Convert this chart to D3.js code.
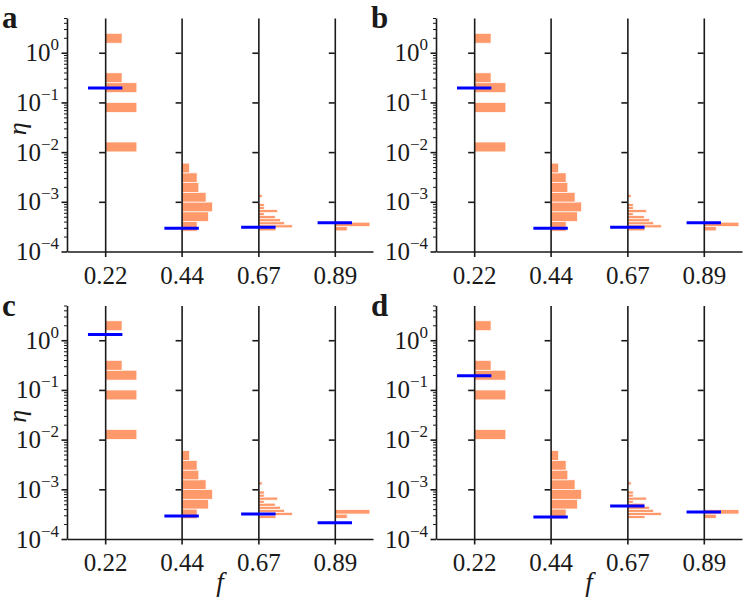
<!DOCTYPE html>
<html>
<head>
<meta charset="utf-8">
<script src="https://cdn.jsdelivr.net/npm/d3@7"></script>
<style>
  body { margin: 0; background: #fff; }
  svg { display: block; }
</style>
</head>
<body>
<svg id="chart"></svg>
<script>
const fValues = [0.222, 0.444, 0.667, 0.889];
const fLabels = ['0.22', '0.44', '0.67', '0.89'];
const panelLabels = ['a', 'b', 'c', 'd'];
const decades = [1e-4, 1e-3, 1e-2, 1e-1, 1];
const decadeExp = ['-4', '-3', '-2', '-1', '0'];

// eta histograms, one per f: range of the bins and bar length of each bin (lowest bin first)
const histLow = [0.0101, 2.56e-4, 2.6e-4, 2.6e-4];
const histHigh = [2.46, 6.0e-3, 1.41e-3, 3.89e-4];
const hist022 = [0.092, 0, 0, 0, 0.092, 0, 0.092, 0.049, 0, 0, 0, 0.049];
const hist044 = [0.045, 0.078, 0.09, 0.071, 0.05, 0.045, 0.023];
const hist067 = [0.051, 0.099, 0.076, 0.064, 0.049, 0.017, 0.056, 0.017, 0.017, 0, 0, 0.011];
const hist089 = [0.036, 0.102];

// blue marks: eta estimate per f, one list per panel
const estA = [0.195, 2.92e-4, 3.06e-4, 3.8e-4];
const estB = [0.195, 2.92e-4, 3.06e-4, 3.8e-4];
const estC = [1.30, 2.9e-4, 3.18e-4, 2.13e-4];
const estD = [0.192, 2.77e-4, 4.6e-4, 3.5e-4];

const hists = [hist022, hist044, hist067, hist089];
const estimates = [estA, estB, estC, estD];

const width = 750;
const height = 600;
const plotW = 306;
const plotH = 233.5;
const serif = '"Liberation Serif", "DejaVu Serif", serif';
const ink = '#1a1a1a';

const svg = d3.select('#chart')
    .attr('width', width)
    .attr('height', height);

const x = d3.scaleLinear().domain([1 / 9, 1]).range([0, plotW]);
const y = d3.scaleLog().domain([1e-4, 5]).range([plotH, 0]);

const minors = [];
for (let e = -4; e <= 0; e++) {
    for (let m = 2; m <= 9; m++) {
        const v = m * Math.pow(10, e);
        if (v <= 5) minors.push(v);
    }
}

const layout = [
    {left: 67, top: 18, yTitle: true, xTitle: false},
    {left: 436, top: 18, yTitle: false, xTitle: false},
    {left: 67, top: 305.5, yTitle: true, xTitle: true},
    {left: 436, top: 305.5, yTitle: false, xTitle: true}
];

layout.forEach((p, pi) => {
    const g = svg.append('g').attr('transform', `translate(${p.left}, ${p.top})`);

    // histograms
    fValues.forEach((f, gi) => {
        const counts = hists[gi];
        const lo = Math.log10(histLow[gi]);
        const hi = Math.log10(histHigh[gi]);
        const step = (hi - lo) / counts.length;
        const bins = counts.map((c, i) => ({
            y0: Math.pow(10, lo + i * step),
            y1: Math.pow(10, lo + (i + 1) * step),
            len: c
        })).filter(d => d.len > 0);

        g.append('g').selectAll('rect').data(bins).enter().append('rect')
            .attr('x', x(f))
            .attr('y', d => y(d.y1))
            .attr('width', d => x(f + d.len) - x(f))
            .attr('height', d => y(d.y0) - y(d.y1))
            .attr('fill', '#fd996b')
            .attr('stroke', '#fff')
            .attr('stroke-width', 0.7);
    });

    // vertical line for each f with decade ticks
    fValues.forEach(f => {
        const vAxis = g.append('g')
            .attr('transform', `translate(${x(f)}, 0)`)
            .call(d3.axisLeft(y).tickValues(decades.slice(1)).tickFormat('').tickSize(6).tickSizeOuter(0));
        vAxis.select('.domain').attr('stroke', ink).attr('stroke-width', 1.6);
        vAxis.selectAll('.tick line').attr('stroke', ink).attr('stroke-width', 1.6);
    });

    // left axis: minor ticks then major ticks
    const minorAxis = g.append('g')
        .call(d3.axisLeft(y).tickValues(minors).tickFormat('').tickSize(3).tickSizeOuter(0));
    minorAxis.select('.domain').remove();
    minorAxis.selectAll('.tick line').attr('stroke', ink).attr('stroke-width', 1);

    const yAxis = g.append('g')
        .call(d3.axisLeft(y).tickValues(decades).tickFormat('').tickSize(5.5).tickSizeOuter(0));
    yAxis.select('.domain').attr('stroke', ink).attr('stroke-width', 1.6);
    yAxis.selectAll('.tick line').attr('stroke', ink).attr('stroke-width', 1.6);

    decades.forEach((v, i) => {
        const t = g.append('text')
            .attr('x', -8)
            .attr('y', y(v) + 8.5)
            .attr('text-anchor', 'end')
            .attr('font-family', serif)
            .attr('font-size', 25)
            .attr('fill', ink);
        t.append('tspan').text('10');
        t.append('tspan').attr('dy', -11).attr('font-size', 17).text(decadeExp[i].replace('-', '\u2212'));
    });

    // bottom axis
    const xAxis = g.append('g')
        .attr('transform', `translate(0, ${plotH})`)
        .call(d3.axisBottom(x).tickValues(fValues).tickFormat((d, i) => fLabels[i]).tickSize(5.5).tickSizeOuter(0));
    xAxis.select('.domain').attr('stroke', ink).attr('stroke-width', 1.6);
    xAxis.selectAll('.tick line').attr('stroke', ink).attr('stroke-width', 1.6);
    xAxis.selectAll('.tick text')
        .attr('font-family', serif)
        .attr('font-size', 25)
        .attr('fill', ink)
        .attr('dy', '0.95em');

    // blue estimate marks
    g.append('g').selectAll('line').data(estimates[pi]).enter().append('line')
        .attr('x1', (d, i) => x(fValues[i] - 0.05))
        .attr('x2', (d, i) => x(fValues[i] + 0.05))
        .attr('y1', d => y(d))
        .attr('y2', d => y(d))
        .attr('stroke', '#0000ff')
        .attr('stroke-width', 3);

    // panel letter
    g.append('text')
        .attr('x', -65)
        .attr('y', 10)
        .attr('font-family', serif)
        .attr('font-weight', 'bold')
        .attr('font-size', 31)
        .attr('fill', ink)
        .text(panelLabels[pi]);

    if (p.yTitle) {
        g.append('text')
            .attr('transform', `translate(-41, ${plotH / 2 - 6}) rotate(-90)`)
            .attr('text-anchor', 'middle')
            .attr('font-family', serif)
            .attr('font-style', 'italic')
            .attr('font-size', 26)
            .attr('fill', ink)
            .text('\u03b7');
    }
    if (p.xTitle) {
        g.append('text')
            .attr('x', plotW / 2)
            .attr('y', plotH + 52)
            .attr('text-anchor', 'middle')
            .attr('font-family', serif)
            .attr('font-style', 'italic')
            .attr('font-size', 27)
            .attr('fill', ink)
            .text('f');
    }
});
</script>
</body>
</html>
